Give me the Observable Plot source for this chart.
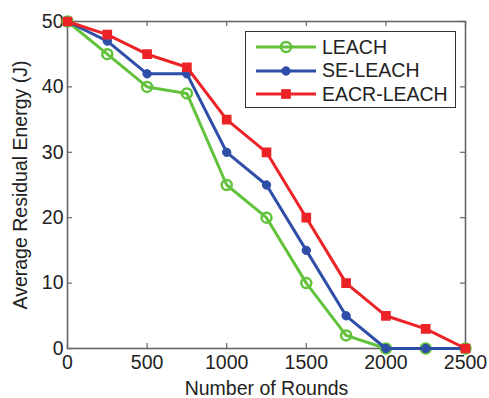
<!DOCTYPE html>
<html><head><meta charset="utf-8">
<script src="https://cdn.jsdelivr.net/npm/d3@7"></script>
<script src="https://cdn.jsdelivr.net/npm/@observablehq/plot@0.6"></script>
<style>
body{margin:0;background:#fff;}
#wrap{position:relative;width:489px;height:398px;font-family:"Liberation Sans",Arial,sans-serif;}
#legend{position:absolute;left:245px;top:31px;width:209px;height:75px;border:1.3px solid #333;background:#fff;}
.item{position:absolute;left:0;height:24px;display:flex;align-items:center;font-size:19.5px;color:#222;}
.item svg{margin-left:10px;margin-right:6px;}
</style>
</head><body><div id="wrap"></div>
<script>
const rounds = [0, 250, 500, 750, 1000, 1250, 1500, 1750, 2000, 2250, 2500];
const leach = [50, 45, 40, 39, 25, 20, 10, 2, 0, 0, 0];
const seLeach = [50, 47, 42, 42, 30, 25, 15, 5, 0, 0, 0];
const eacrLeach = [50, 48, 45, 43, 35, 30, 20, 10, 5, 3, 0];
const seriesNames = ["LEACH", "SE-LEACH", "EACR-LEACH"];
const seriesValues = [leach, seLeach, eacrLeach];
const colors = ["#62c23c", "#2f4ea8", "#ec2326"];
const xTicks = [0, 500, 1000, 1500, 2000, 2500];
const yTicks = [0, 10, 20, 30, 40, 50];
const xLabel = "Number of Rounds";
const yLabel = "Average Residual Energy (J)";

const W = 489, H = 398, mL = 67, mR = 24, mT = 21, mB = 50;
const innerW = W - mL - mR, innerH = H - mT - mB;
const FONT = "19.5px";
const axisColor = "#666";

const tables = seriesNames.map((name, i) => rounds.map((r, j) => ({series: name, round: r, energy: seriesValues[i][j]})));

const dotStyles = [
  {symbol: "circle", r: 5, fill: "none", stroke: colors[0], strokeWidth: 2.5},
  {symbol: "circle", r: 4.2, fill: colors[1], stroke: colors[1], strokeWidth: 1},
  {symbol: "square", r: 4.6, fill: colors[2], stroke: colors[2], strokeWidth: 1.5}
];

const seriesMarks = tables.flatMap((t, i) => [
  Plot.line(t, {x: "round", y: "energy", stroke: colors[i], strokeWidth: 3}),
  Plot.dot(t, {x: "round", y: "energy", ...dotStyles[i]})
]);

const chart = Plot.plot({
  width: W, height: H,
  marginLeft: mL, marginRight: mR, marginTop: mT, marginBottom: mB,
  style: {fontFamily: '"Liberation Sans", Arial, sans-serif', fontSize: FONT, color: "#222", background: "white"},
  x: {domain: [0, 2500]},
  y: {domain: [0, 50]},
  marks: [
    Plot.axisX(xTicks, {tickSize: 0, tickPadding: 7, fontSize: FONT, label: null, fill: "#222", tickFormat: d3.format("d")}),
    Plot.axisY(yTicks, {tickSize: 0, tickPadding: 4, fontSize: FONT, label: null, fill: "#222", tickFormat: d3.format("d")}),
    Plot.tickX(xTicks, {x: d => d, stroke: axisColor, strokeWidth: 1.2, insetTop: innerH - 5}),
    Plot.tickX(xTicks, {x: d => d, stroke: axisColor, strokeWidth: 1.2, insetBottom: innerH - 5}),
    Plot.tickY(yTicks, {y: d => d, stroke: axisColor, strokeWidth: 1.2, insetRight: innerW - 5}),
    Plot.tickY(yTicks, {y: d => d, stroke: axisColor, strokeWidth: 1.2, insetLeft: innerW - 5}),
    Plot.frame({stroke: axisColor, strokeWidth: 1.6}),
    ...seriesMarks,
    Plot.text([xLabel], {text: d => d, frameAnchor: "bottom", lineAnchor: "middle", dy: 40, fontSize: FONT, fill: "#222"}),
    Plot.text([yLabel], {text: d => d, frameAnchor: "left", dx: -47, rotate: -90, textAnchor: "middle", fontSize: FONT, fill: "#222"})
  ]
});

const wrap = document.getElementById("wrap");
wrap.appendChild(chart);

// Legend
const legend = document.createElement("div");
legend.id = "legend";
seriesNames.forEach((name, i) => {
  const item = document.createElement("div");
  item.className = "item";
  item.style.top = (3 + i * 23.5) + "px";
  const sw = d3.create("svg").attr("width", 60).attr("height", 20);
  sw.append("line").attr("x1", 0).attr("x2", 60).attr("y1", 10).attr("y2", 10)
    .attr("stroke", colors[i]).attr("stroke-width", 3);
  const s = dotStyles[i];
  if (s.symbol === "square") {
    const a = s.r * Math.sqrt(Math.PI);
    sw.append("rect").attr("x", 30 - a / 2).attr("y", 10 - a / 2).attr("width", a).attr("height", a)
      .attr("fill", s.fill).attr("stroke", s.stroke).attr("stroke-width", s.strokeWidth);
  } else {
    sw.append("circle").attr("cx", 30).attr("cy", 10).attr("r", s.r)
      .attr("fill", s.fill).attr("stroke", s.stroke).attr("stroke-width", s.strokeWidth);
  }
  item.appendChild(sw.node());
  const label = document.createElement("span");
  label.textContent = name;
  item.appendChild(label);
  legend.appendChild(item);
});
wrap.appendChild(legend);
</script>
</body></html>
